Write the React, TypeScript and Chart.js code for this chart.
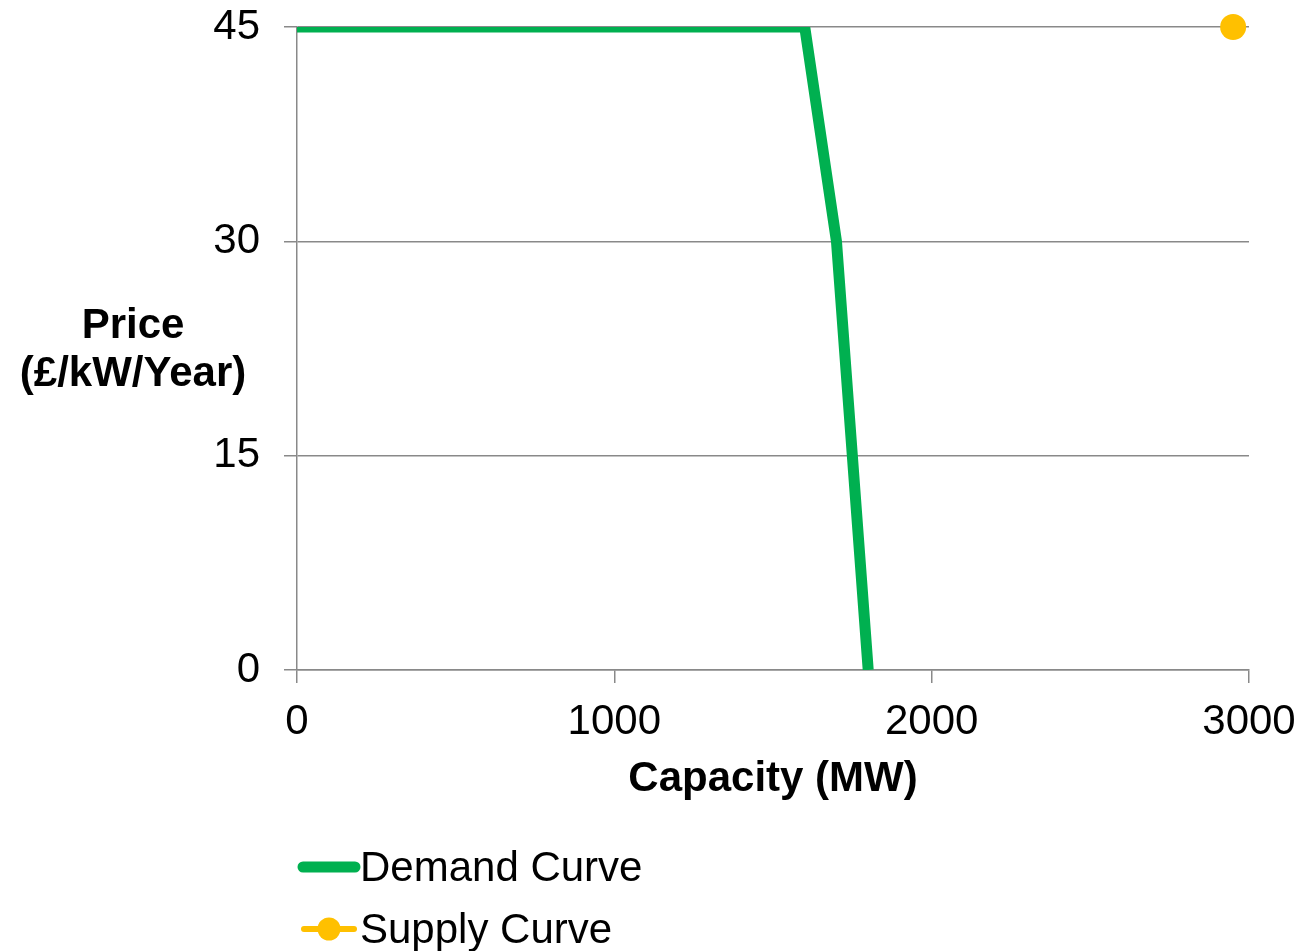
import React, { useEffect, useRef } from "react";
import { Chart, registerables } from "chart.js";

Chart.register(...registerables);

// ---- data ----
const demandCapacity = [0, 1600, 1700, 1800];
const demandPrice = [45, 45, 30, 0];
const supplyCapacity = [2950];
const supplyPrice = [45];
const xTickValues = [0, 1000, 2000, 3000];
const yTickValues = [0, 15, 30, 45];
const seriesNames = ["Demand Curve", "Supply Curve"];
const xTitle = "Capacity (MW)";
const yTitleLines = ["Price", "(£/kW/Year)"];

// ---- styles ----
const GREEN = "#00B050";
const YELLOW = "#FFC000";
const GRID = "#898989";
const FONT = "'Liberation Sans', Arial, sans-serif";
const FS = 42;

const overlayPlugin = {
  id: "overlay",
  afterDraw(chart: any) {
    const ctx = chart.ctx as CanvasRenderingContext2D;
    ctx.save();
    ctx.fillStyle = "#000";
    // horizontal y-axis title
    ctx.font = `bold ${FS}px ${FONT}`;
    ctx.textAlign = "center";
    ctx.textBaseline = "middle";
    yTitleLines.forEach((t, i) => ctx.fillText(t, 133, 326 + i * 48));

    // legend
    const ds = chart.data.datasets;
    ctx.font = `${FS}px ${FONT}`;
    ctx.textAlign = "left";
    ctx.textBaseline = "alphabetic";
    // demand
    ctx.strokeStyle = ds[0].borderColor;
    ctx.lineWidth = 11;
    ctx.lineCap = "round";
    ctx.beginPath();
    ctx.moveTo(303, 867);
    ctx.lineTo(355, 867);
    ctx.stroke();
    ctx.fillText(ds[0].label, 360, 881);
    // supply
    ctx.strokeStyle = ds[1].pointBackgroundColor;
    ctx.lineWidth = 6;
    ctx.beginPath();
    ctx.moveTo(304, 929);
    ctx.lineTo(354, 929);
    ctx.stroke();
    ctx.fillStyle = ds[1].pointBackgroundColor;
    ctx.beginPath();
    ctx.arc(329, 929, 11.5, 0, Math.PI * 2);
    ctx.fill();
    ctx.fillStyle = "#000";
    ctx.fillText(ds[1].label, 360, 943);
    ctx.restore();
  },
};

export default function App() {
  const canvasRef = useRef<HTMLCanvasElement | null>(null);

  useEffect(() => {
    document.body.style.margin = "0";
    const canvas = canvasRef.current;
    if (!canvas) return;
    const chart = new Chart(canvas, {
      type: "line",
      data: {
        datasets: [
          {
            label: seriesNames[0],
            data: demandCapacity.map((x, i) => ({ x, y: demandPrice[i] })),
            borderColor: GREEN,
            backgroundColor: GREEN,
            borderWidth: 11,
            pointRadius: 0,
            tension: 0,
            clip: 0,
          },
          {
            label: seriesNames[1],
            data: supplyCapacity.map((x, i) => ({ x, y: supplyPrice[i] })),
            borderColor: YELLOW,
            backgroundColor: YELLOW,
            pointBackgroundColor: YELLOW,
            pointBorderWidth: 0,
            pointRadius: 13,
            showLine: false,
            clip: false as any,
          },
        ] as any,
      },
      options: {
        animation: false,
        responsive: true,
        maintainAspectRatio: false,
        layout: { padding: { top: 27, right: 62, bottom: 146, left: 0 } },
        plugins: {
          legend: { display: false },
          tooltip: { enabled: false },
        },
        scales: {
          x: {
            type: "linear",
            position: "bottom",
            min: 0,
            max: 3000,
            afterBuildTicks: (s: any) => {
              s.ticks = xTickValues.map((v) => ({ value: v }));
            },
            afterFit: (s: any) => {
              s.height = 135;
              s.paddingLeft = 0;
              s.paddingRight = 0;
            },
            grid: {
              drawOnChartArea: false,
              drawTicks: true,
              tickLength: 13,
              color: GRID,
              lineWidth: 1.5,
            },
            border: { display: true, color: GRID, width: 1.5 },
            ticks: {
              color: "#000",
              font: { family: FONT, size: FS, lineHeight: 1.2 },
              padding: 14,
              maxRotation: 0,
              autoSkip: false,
              callback: (v: any) => String(v),
            },
            title: {
              display: true,
              text: xTitle,
              color: "#000",
              font: { family: FONT, size: FS, weight: "bold", lineHeight: 1.2 },
              padding: 0,
            },
          },
          y: {
            type: "linear",
            min: 0,
            max: 45,
            afterBuildTicks: (s: any) => {
              s.ticks = yTickValues.map((v) => ({ value: v }));
            },
            afterFit: (s: any) => {
              s.width = 297;
              s.paddingTop = 0;
              s.paddingBottom = 0;
            },
            grid: {
              drawOnChartArea: true,
              drawTicks: true,
              tickLength: 13,
              color: GRID,
              lineWidth: 1.5,
            },
            border: { display: true, color: GRID, width: 1.5 },
            ticks: {
              color: "#000",
              font: { family: FONT, size: FS, lineHeight: 1.2 },
              padding: 24,
              callback: (v: any) => String(v),
            },
          },
        },
      } as any,
      plugins: [overlayPlugin],
    });
    return () => chart.destroy();
  }, []);

  return (
    <div style={{ position: "fixed", left: 0, top: 0, width: 1311, height: 951, background: "#fff" }}>
      <canvas ref={canvasRef} />
    </div>
  );
}
